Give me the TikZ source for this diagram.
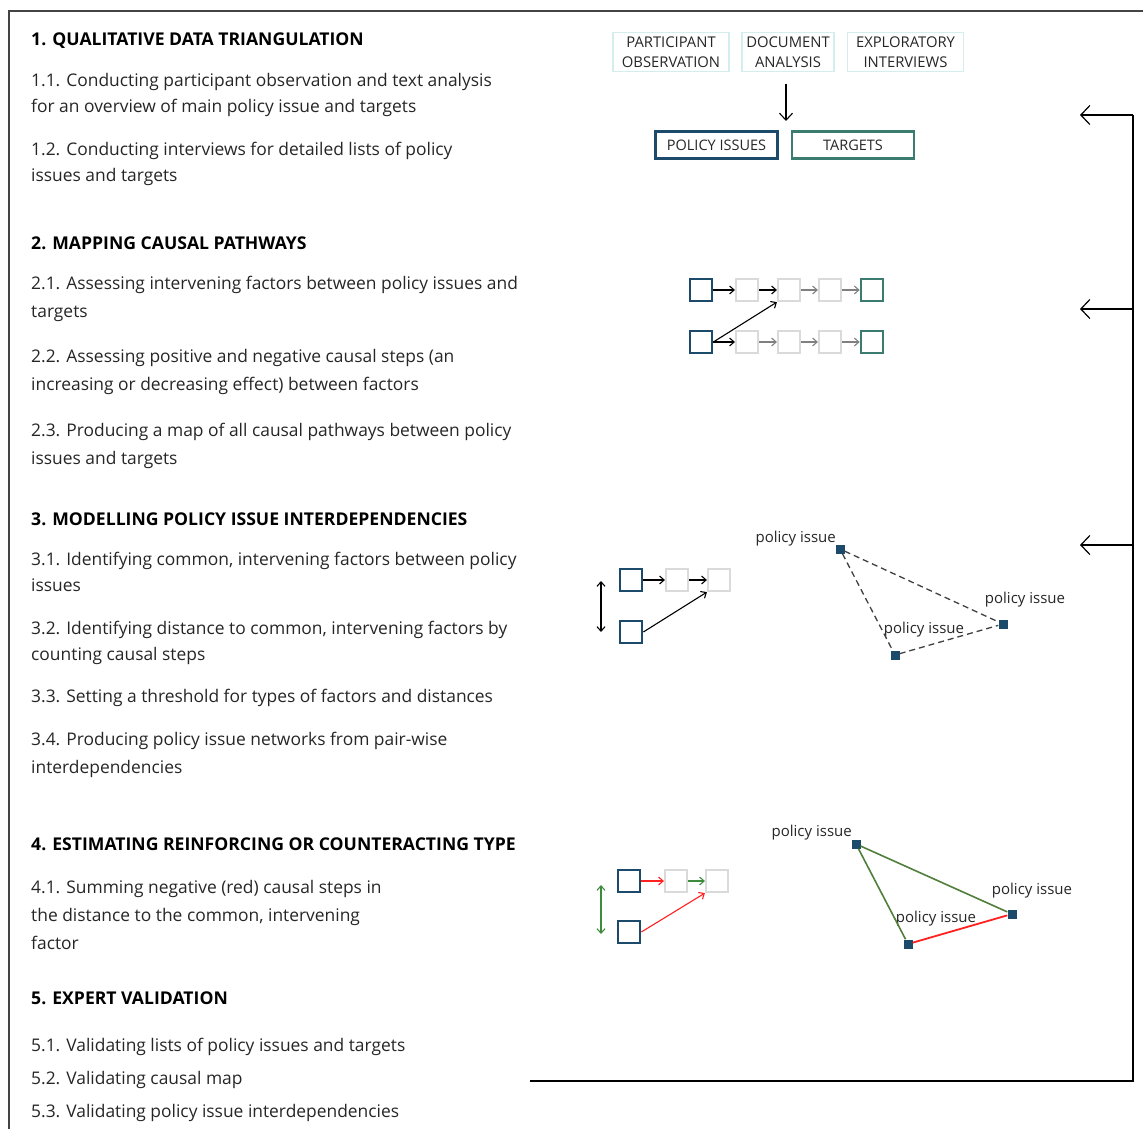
\documentclass[tikz,border=0pt]{standalone}
\usepackage{fontspec}
\setmainfont{Open Sans}
\usetikzlibrary{arrows.meta}
\definecolor{pblue}{HTML}{1B4A6B}
\definecolor{pteal}{HTML}{3A7D70}
\definecolor{pgray}{HTML}{DADADA}
\definecolor{pcyan}{HTML}{D3EEEC}
\definecolor{pgreen}{HTML}{4F7F3A}
\definecolor{agreen}{HTML}{3C8C3C}
\definecolor{pred}{HTML}{FF2020}
\definecolor{bordergray}{HTML}{444444}
\tikzset{
  txt/.style={anchor=base west, inner sep=0pt, font=\fontsize{17.4}{20}\selectfont, text=black!85},
  head/.style={txt, font=\fontsize{17.6}{20}\selectfont\bfseries, text=black},
  srcbox/.style={draw=pcyan, line width=1.3pt, minimum width=116pt, minimum height=39pt, align=center, inner sep=0pt, font=\fontsize{14.8}{19.5}\selectfont, text=black!85},
  bigbox/.style={line width=2.7pt, minimum width=122pt, minimum height=27pt, inner sep=0pt, font=\fontsize{14.5}{17}\selectfont, text=black!85},
  pbox/.style={draw=pblue, line width=2.7pt, minimum size=22pt, inner sep=0pt},
  tbox/.style={draw=pteal, line width=2.7pt, minimum size=22pt, inner sep=0pt},
  gbox/.style={draw=pgray, line width=2.2pt, minimum size=22pt, inner sep=0pt},
  sq/.style={fill=pblue, minimum size=9pt, inner sep=0pt},
  lbl/.style={inner sep=0pt, font=\fontsize{15}{18}\selectfont, text=black!85},
  sarr/.style={-{Straight Barb[length=4.5pt,width=8pt]}, line width=1.1pt, shorten <=0pt},
  fb/.style={line width=1.2pt, black},
  fbarr/.style={fb, -{Straight Barb[length=9pt,width=19pt]}},
}
\begin{document}
\begin{tikzpicture}[x=1pt,y=-1pt]
\useasboundingbox (0,0) rectangle (1143,1129);
% border
\draw[bordergray, line width=1.6pt] (9,1129) -- (9,11) -- (1143,11);
% ---------- left text ----------
\node[head] (h1) at (31,46) {1. QUALITATIVE DATA TRIANGULATION};
\node[txt] (t11a) at (31,87) {1.1. Conducting participant observation and text analysis};
\node[txt] (t11b) at (31,113) {for an overview of main policy issue and targets};
\node[txt] (t12a) at (31,156) {1.2. Conducting interviews for detailed lists of policy};
\node[txt] (t12b) at (31,182) {issues and targets};
\node[head] (h2) at (31,249) {2. MAPPING CAUSAL PATHWAYS};
\node[txt] (t21a) at (31,289) {2.1. Assessing intervening factors between policy issues and};
\node[txt] (t21b) at (31,317) {targets};
\node[txt] (t22a) at (31,362) {2.2. Assessing positive and negative causal steps (an};
\node[txt] (t22b) at (31,390) {increasing or decreasing effect) between factors};
\node[txt] (t23a) at (31,436) {2.3. Producing a map of all causal pathways between policy};
\node[txt] (t23b) at (31,464) {issues and targets};
\node[head] (h3) at (31,525) {3. MODELLING POLICY ISSUE INTERDEPENDENCIES};
\node[txt] (t31a) at (31,565) {3.1. Identifying common, intervening factors between policy};
\node[txt] (t31b) at (31,591) {issues};
\node[txt] (t32a) at (31,634) {3.2. Identifying distance to common, intervening factors by};
\node[txt] (t32b) at (31,660) {counting causal steps};
\node[txt] (t33) at (31,702) {3.3. Setting a threshold for types of factors and distances};
\node[txt] (t34a) at (31,745) {3.4. Producing policy issue networks from pair-wise};
\node[txt] (t34b) at (31,773) {interdependencies};
\node[head] (h4) at (31,850) {4. ESTIMATING REINFORCING OR COUNTERACTING TYPE};
\node[txt] (t41a) at (31,893) {4.1. Summing negative (red) causal steps in};
\node[txt] (t41b) at (31,921) {the distance to the common, intervening};
\node[txt] (t41c) at (31,949) {factor};
\node[head] (h5) at (31,1004) {5. EXPERT VALIDATION};
\node[txt] (t51) at (31,1051) {5.1. Validating lists of policy issues and targets};
\node[txt] (t52) at (31,1084) {5.2. Validating causal map};
\node[txt] (t53) at (31,1117) {5.3. Validating policy issue interdependencies};
% ---------- section 1 diagram ----------
\node[srcbox] (po) at (671,52) {PARTICIPANT\\OBSERVATION};
\node[srcbox, minimum width=92pt] (da) at (788,52) {DOCUMENT\\ANALYSIS};
\node[srcbox] (ei) at (905.5,52) {EXPLORATORY\\INTERVIEWS};
\node[bigbox, draw=pblue, minimum width=122pt] (pi) at (716.5,145) {POLICY ISSUES};
\node[bigbox, draw=pteal] (tg) at (853,145) {TARGETS};
\coordinate (ar1) at (786,84);
\coordinate (ar2) at (786,121);
\draw[line width=1.1pt, -{Straight Barb[length=7pt,width=13pt]}] (ar1) -- (ar2);
% ---------- section 2 diagram ----------
\node[pbox] (a1) at (701,290) {};
\node[gbox] (a2) at (747,290) {};
\node[gbox] (a3) at (789,290) {};
\node[gbox] (a4) at (830,290) {};
\node[tbox] (a5) at (872,290) {};
\node[pbox] (b1) at (701,342) {};
\node[gbox] (b2) at (747,342) {};
\node[gbox] (b3) at (789,342) {};
\node[gbox] (b4) at (830,342) {};
\node[tbox] (b5) at (872,342) {};
\draw[sarr] (a1) -- (a2);
\draw[sarr] (a2) -- (a3);
\draw[sarr, gray] (a3) -- (a4);
\draw[sarr, gray] (a4) -- (a5);
\draw[sarr] (b1) -- (b2);
\draw[sarr, gray] (b2) -- (b3);
\draw[sarr, gray] (b3) -- (b4);
\draw[sarr, gray] (b4) -- (b5);
\draw[sarr] (b1.east) -- (a3.south west);
% ---------- section 3 diagram ----------
\node[pbox] (c1) at (631,580) {};
\node[gbox] (c2) at (677,580) {};
\node[gbox] (c3) at (719,580) {};
\node[pbox] (d1) at (631,632) {};
\draw[sarr] (c1) -- (c2);
\draw[sarr] (c2) -- (c3);
\draw[sarr] (d1.east) -- (c3.south west);
\coordinate (v1) at (601,581);
\coordinate (v2) at (601,632);
\draw[line width=1.1pt, {Straight Barb[length=4.5pt,width=8pt]}-{Straight Barb[length=4.5pt,width=8pt]}] (v1) -- (v2);
\node[sq] (p1) at (840,549) {};
\node[sq] (p2) at (1003,624) {};
\node[sq] (p3) at (895,655) {};
\node[lbl, anchor=south east] (l1) at (836,546) {policy issue};
\node[lbl, anchor=south] (l2) at (1025,607) {policy issue};
\node[lbl, anchor=south] (l3) at (924,637) {policy issue};
\draw[dashed, dash pattern=on 6pt off 4pt, line width=1.3pt, black!75] (p1) -- (p2);
\draw[dashed, dash pattern=on 6pt off 4pt, line width=1.3pt, black!75] (p1) -- (p3);
\draw[dashed, dash pattern=on 6pt off 4pt, line width=1.3pt, black!75] (p3) -- (p2);
% ---------- section 4 diagram ----------
\node[pbox] (e1) at (629,881) {};
\node[gbox] (e2) at (676,881) {};
\node[gbox] (e3) at (717,881) {};
\node[pbox] (f1) at (629,932) {};
\draw[sarr, pred] (e1) -- (e2);
\draw[sarr, agreen] (e2) -- (e3);
\draw[sarr, pred] (f1.east) -- (e3.south west);
\coordinate (w1) at (601,885);
\coordinate (w2) at (601,934);
\draw[line width=1.1pt, agreen, {Straight Barb[length=4.5pt,width=8pt]}-{Straight Barb[length=4.5pt,width=8pt]}] (w1) -- (w2);
\node[sq] (q1) at (856,844) {};
\node[sq] (q2) at (1012,914) {};
\node[sq] (q3) at (908,944) {};
\node[lbl, anchor=south east] (m1) at (852,840) {policy issue};
\node[lbl, anchor=south] (m2) at (1032,898) {policy issue};
\node[lbl, anchor=south] (m3) at (936,926) {policy issue};
\draw[line width=1.6pt, pgreen] (q1) -- (q2);
\draw[line width=1.6pt, pgreen] (q1) -- (q3);
\draw[line width=1.8pt, pred] (q3) -- (q2);
% ---------- feedback line ----------
\coordinate (fbtop) at (1133,115);
\coordinate (fb1) at (1133,309);
\coordinate (fb2) at (1133,545);
\coordinate (fbbot) at (1133,1081);
\coordinate (fbend) at (530,1081);
\coordinate (tip0) at (1080,115);
\coordinate (tip1) at (1080,309);
\coordinate (tip2) at (1080,545);
\draw[fb] (fbend) -- (fbbot) -- (fbtop);
\draw[fbarr] (fbtop) -- (tip0);
\draw[fbarr] (fb1) -- (tip1);
\draw[fbarr] (fb2) -- (tip2);
\end{tikzpicture}
\end{document}
